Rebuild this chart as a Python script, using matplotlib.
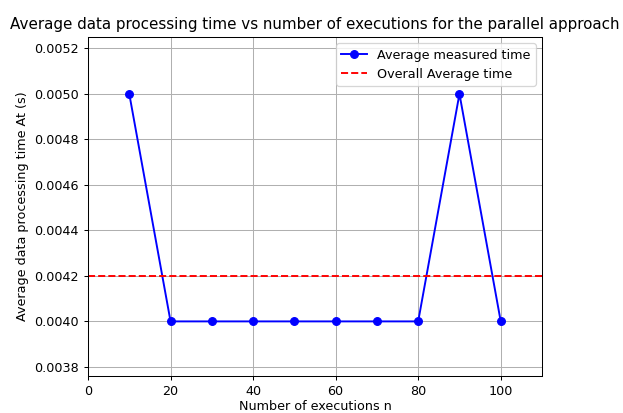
import matplotlib.pyplot as plt
import numpy as np

executions = [10, 20, 30, 40, 50, 60, 70, 80, 90, 100]
avg_times = [0.005, 0.004, 0.004, 0.004, 0.004, 0.004, 0.004, 0.004, 0.005, 0.004]
overall_avg = 0.0042

dpi = 92
fig = plt.figure(figsize=(623 / dpi, 413 / dpi), dpi=dpi)
ax = fig.add_subplot(1, 1, 1)
fig.subplots_adjust(left=88 / 623, right=542 / 623, top=1 - 37 / 413, bottom=1 - 376 / 413)

ax.plot(executions, avg_times, color='blue', marker='o', label='Average measured time')
ax.axhline(overall_avg, color='red', ls='--', label='Overall Average time')

ax.set_xlim(0, 110)
ax.set_ylim(min(avg_times) * 0.94, max(avg_times) * 1.05)
ax.set_title('Average data processing time vs number of executions for the parallel approach',
             fontsize=11.85)
ax.set_xlabel('Number of executions n', labelpad=2)
ax.set_ylabel('Average data processing time At (s)')
ax.grid()
ax.legend(loc='upper right')

fig.savefig('out.png', dpi=dpi)
